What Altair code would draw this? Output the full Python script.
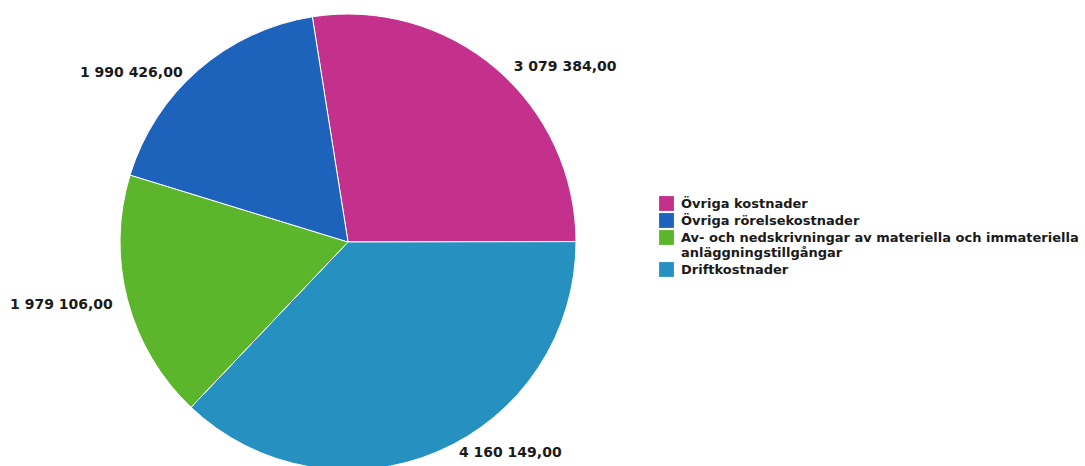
import math
import altair as alt
import pandas as pd

# ---- data ----
categories = [
    "Övriga kostnader",
    "Driftkostnader",
    "Av- och nedskrivningar av materiella och immateriella anläggningstillgångar",
    "Övriga rörelsekostnader",
]
values = [3079384.00, 4160149.00, 1979106.00, 1990426.00]
value_labels = ["3 079 384,00", "4 160 149,00", "1 979 106,00", "1 990 426,00"]
legend_order = [categories[0], categories[3], categories[2], categories[1]]
legend_colors = ["#C4318D", "#1D62BB", "#5CB62B", "#2691C0"]

long_cat = categories[2]
long_lines = ["Av- och nedskrivningar av materiella och immateriella", "anläggningstillgångar"]

df = pd.DataFrame({"cat": categories, "value": values, "label": value_labels, "ord": list(range(len(categories)))})

CX, CY, R = 348, 242, 228
start = -9 * math.pi / 180
theta_scale = alt.Scale(range=[start, start + 2 * math.pi])

label_expr = (
    f"datum.label == '{long_cat}' ? ['{long_lines[0]}', '{long_lines[1]}'] : datum.label"
)

color = alt.Color(
    "cat:N",
    scale=alt.Scale(domain=legend_order, range=legend_colors),
    sort=legend_order,
    legend=alt.Legend(
        title=None,
        orient="none",
        legendX=659,
        legendY=196,
        symbolType="square",
        symbolSize=220,
        symbolStrokeWidth=0,
        symbolOpacity=1,
        labelFont="DejaVu Sans",
        labelFontSize=13,
        labelFontWeight="bold",
        labelColor="#1a1a1a",
        labelOffset=7,
        labelLimit=600,
        rowPadding=2,
        labelExpr=label_expr,
    ),
)

base = alt.Chart(df)

arc = base.mark_arc(radius=R, stroke="white", strokeWidth=1).encode(
    theta=alt.Theta("value:Q", stack=True, scale=theta_scale),
    color=color,
    order=alt.Order("ord:Q"),
    x=alt.value(CX),
    y=alt.value(CY),
)

lab = base.transform_window(
    cum="sum(value)", sort=[alt.SortField("ord")], frame=[None, 0]
).transform_calculate(mid="datum.cum - datum.value / 2")

styles = {
    categories[0]: dict(align="left", dx=10, dy=8),
    categories[1]: dict(align="left", dx=16, dy=-9),
    categories[2]: dict(align="right", dx=-3, dy=2),
    categories[3]: dict(align="right", dx=-8, dy=12),
}

layers = [arc]
for c in categories:
    st = styles[c]
    layers.append(
        lab.transform_filter(alt.datum.cat == c)
        .mark_text(
            radius=240,
            align=st["align"],
            baseline="middle",
            dx=st["dx"],
            dy=st["dy"],
            font="DejaVu Sans",
            fontSize=14,
            fontWeight="bold",
            color="#1a1a1a",
        )
        .encode(
            theta=alt.Theta("mid:Q", stack=False, scale=theta_scale),
            text="label:N",
            x=alt.value(CX),
            y=alt.value(CY),
        )
    )

chart = (
    alt.layer(*layers)
    .properties(width=1085, height=466, autosize=alt.AutoSizeParams(type="none"), padding=0, background="white")
    .configure_view(stroke=None)
)

chart.save("out.html", embed_options={"renderer": "svg", "actions": False})
